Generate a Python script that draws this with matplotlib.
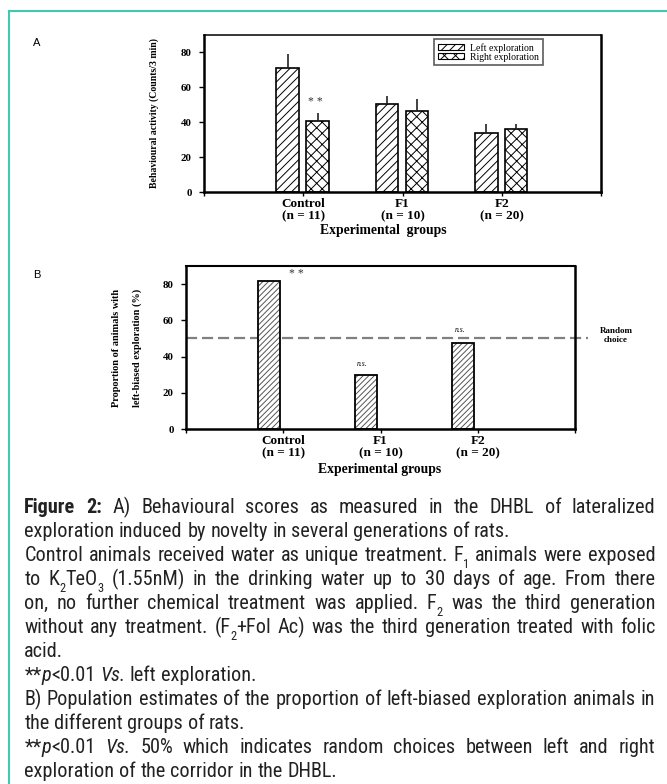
import os
import matplotlib
matplotlib.use("Agg")
import numpy as np
import matplotlib.pyplot as plt
from matplotlib import font_manager
from matplotlib.font_manager import FontProperties
from matplotlib.lines import Line2D
from matplotlib.patches import Patch

# ---- data ----
groups = ["Control", "F1", "F2"]
group_sizes = ["(n = 11)", "(n = 10)", "(n = 20)"]
left_exploration = [71.0, 50.6, 34.0]
left_exploration_err = [8.0, 4.3, 5.1]
right_exploration = [40.8, 46.4, 36.2]
right_exploration_err = [4.3, 7.0, 2.9]
left_biased_pct = [81.8, 30.0, 47.6]
random_choice_pct = 50
y_ticks = [0, 20, 40, 60, 80]
sig_b = ["* *", "n.s.", "n.s."]

# caption lines: '#' bold, '~' italic, '_' subscript, '|' splits segments in a word
caption_lines = [
    ("#Figure #2: A) Behavioural scores as measured in the DHBL of lateralized", True),
    ("exploration induced by novelty in several generations of rats.", False),
    ("Control animals received water as unique treatment. F|_1 animals were exposed", True),
    ("to K|_2|TeO|_3 (1.55nM) in the drinking water up to 30 days of age. From there", True),
    ("on, no further chemical treatment was applied. F|_2 was the third generation", True),
    ("without any treatment. (F|_2|+Fol Ac) was the third generation treated with folic", True),
    ("acid.", False),
    ("**|~p|<0.01 ~Vs. left exploration.", False),
    ("B) Population estimates of the proportion of left-biased exploration animals in", True),
    ("the different groups of rats.", False),
    ("**|~p|<0.01 ~Vs. 50% which indicates random choices between left and right", True),
    ("exploration of the corridor in the DHBL.", False),
]

W, H, DPI = 667, 784, 100
SERIF = "Liberation Serif"
plt.rcParams["hatch.linewidth"] = 0.7


def _weight(f):
    if isinstance(f.weight, (int, float)):
        return f.weight
    return font_manager.weight_dict.get(str(f.weight).lower(), 400)


def pick_narrow_files():
    """Look for a narrow/condensed sans to mimic Arial Narrow in the caption."""
    prefs = ["Liberation Sans Narrow", "Arial Narrow", "Noto Sans", "Open Sans",
             "Roboto", "DejaVu Sans"]
    entries = font_manager.fontManager.ttflist
    for fam in prefs:
        group = []
        for f in entries:
            base = os.path.basename(f.fname)
            if not f.name.startswith(fam) or "Mono" in f.name or "CJK" in f.name:
                continue
            narrow = ("Narrow" in f.name or "Condensed" in f.name or "Condensed" in base
                      or "Narrow" in base or str(f.stretch) == "condensed")
            if not narrow or "Extra" in base or "Ultra" in base or "Semi" in base:
                continue
            group.append(f)
        if not group:
            continue
        files = {}
        for f in group:
            w = _weight(f)
            if f.style == "normal" and w in (400,) and "r" not in files:
                files["r"] = f.fname
            elif f.style == "normal" and w == 700 and "b" not in files:
                files["b"] = f.fname
            elif f.style in ("italic", "oblique") and w == 400 and "i" not in files:
                files["i"] = f.fname
        if "r" in files:
            files.setdefault("b", files["r"])
            files.setdefault("i", files["r"])
            return files
    return None


NARROW = pick_narrow_files()


def px_box(x0, y0, x1, y1):
    return [x0 / W, 1 - y1 / H, (x1 - x0) / W, (y1 - y0) / H]


fig = plt.figure(figsize=(W / DPI, H / DPI), dpi=DPI)
x = np.arange(1, len(groups) + 1)
tick_labels = [f"{g}\n{n}" for g, n in zip(groups, group_sizes)]
label_kw = dict(family=SERIF, fontweight="bold")


def style_axes(ax, top_w):
    ax.set_xlim(0, 4)
    ax.set_ylim(0, 90)
    ax.set_yticks(y_ticks, labels=[str(v) for v in y_ticks], fontsize=7.8, **label_kw)
    ax.set_xticks(x, labels=tick_labels, fontsize=9.5, linespacing=0.95, **label_kw)
    ax.set_xticks([0, 4], minor=True)
    ax.tick_params(axis="y", length=3.3, width=1, pad=5.5)
    ax.tick_params(axis="x", which="both", length=3, width=1, pad=1.5)
    for side, lw in (("left", 1.8), ("bottom", 1.8), ("top", top_w), ("right", 1.8)):
        ax.spines[side].set_linewidth(lw)


# ---- panel A ----
axA = fig.add_axes(px_box(204, 35, 601, 192))
axA.bar(x - 0.156, left_exploration, 0.228, color="white", edgecolor="black",
        linewidth=1.2, hatch="////", zorder=2)
axA.bar(x + 0.145, right_exploration, 0.228, color="white", edgecolor="black",
        linewidth=1.2, hatch="xxx", zorder=2)
axA.errorbar(x - 0.156, left_exploration, yerr=[[0] * 3, left_exploration_err],
             fmt="none", ecolor="#222222", elinewidth=1.2, capsize=0, zorder=3)
axA.errorbar(x + 0.145, right_exploration, yerr=[[0] * 3, right_exploration_err],
             fmt="none", ecolor="#222222", elinewidth=1.2, capsize=0, zorder=3)
axA.text(x[0] + 0.12, right_exploration[0] + 11, "* *", ha="center", va="center",
         fontsize=8.5, color="#333333", family=SERIF)
style_axes(axA, 1.1)
axA.set_ylabel("Behavioural activity (Counts/3 min)", fontsize=7, va="center", **label_kw)
axA.yaxis.set_label_coords(-0.126, 0.5)
axA.set_xlabel("Experimental  groups", fontsize=9.8, va="center", **label_kw)
axA.xaxis.set_label_coords(0.451, -0.246)

handles = [Patch(facecolor="white", edgecolor="black", hatch="////", linewidth=0.8),
           Patch(facecolor="white", edgecolor="black", hatch="xxx", linewidth=0.8)]
leg = axA.legend(handles, ["Left exploration", "Right exploration"],
                 loc="upper left", bbox_to_anchor=(434 / W, 1 - 39 / H),
                 bbox_transform=fig.transFigure, borderaxespad=0, fancybox=False,
                 prop=dict(family=SERIF, size=7.0), handlelength=2.7, handleheight=0.6,
                 handletextpad=0.6, labelspacing=0.0, borderpad=0.4)
leg.get_frame().set_edgecolor("#333333")
leg.get_frame().set_linewidth(1.2)

# ---- panel B ----
axB = fig.add_axes(px_box(186, 266, 575, 429))
axB.bar(x - 0.15, left_biased_pct, 0.226, color="white", edgecolor="#555555",
        linewidth=0, hatch="//////", zorder=2)
axB.bar(x - 0.15, left_biased_pct, 0.226, fill=False, edgecolor="black",
        linewidth=1.3, zorder=3)
axB.axhline(random_choice_pct, xmin=0, xmax=1.033, color="#808080", lw=1.6,
            dashes=(5, 2.2), clip_on=False, zorder=1)
for xi, yi, s, dx, dy in zip(x, left_biased_pct, sig_b, [0.137, -0.193, -0.187], [3.7, 6.1, 7.1]):
    if s.startswith("*"):
        axB.text(xi + dx, yi + dy, s, ha="center", va="center", fontsize=8.5,
                 color="#333333", family=SERIF)
    else:
        axB.text(xi + dx, yi + dy, s, ha="center", va="center", fontsize=5.5,
                 style="italic", family=SERIF)
axB.text(1.107, 0.60, "Random", transform=axB.transAxes, ha="center", va="center",
         fontsize=6.5, **label_kw)
axB.text(1.105, 0.546, "choice", transform=axB.transAxes, ha="center", va="center",
         fontsize=6.5, **label_kw)
style_axes(axB, 1.5)
axB.text(-0.179, 0.5, "Proportion of animals with", transform=axB.transAxes,
         rotation=90, ha="center", va="center", fontsize=7.4, **label_kw)
axB.text(-0.125, 0.5, "left-biased exploration (%)", transform=axB.transAxes,
         rotation=90, ha="center", va="center", fontsize=7.4, **label_kw)
axB.set_xlabel("Experimental groups", fontsize=9.8, va="center", **label_kw)
axB.xaxis.set_label_coords(0.499, -0.25)

# panel letters and frame
fig.text(37 / W, 1 - 43 / H, "A", fontsize=8, family="Liberation Sans", ha="center", va="center")
fig.text(37 / W, 1 - 275 / H, "B", fontsize=8, family="Liberation Sans", ha="center", va="center")
teal = "#3fc9b2"
fig.add_artist(Line2D([9 / W, 9 / W], [0, 1 - 10.7 / H], color=teal, lw=1.5,
                      transform=fig.transFigure))
fig.add_artist(Line2D([9 / W, 1], [1 - 10.7 / H, 1 - 10.7 / H], color=teal, lw=1.5,
                      transform=fig.transFigure))

# ---- caption (justified by hand) ----
renderer = fig.canvas.get_renderer()


def seg_props(style, size):
    if style == "_":
        size = size * 0.62
        style = "r"
    if NARROW:
        return dict(fontproperties=FontProperties(fname=NARROW[style if style in NARROW else "r"],
                                                  size=size))
    if style == "b":
        return dict(family="Liberation Sans", fontweight="bold", fontsize=size)
    if style == "i":
        return dict(family="Liberation Sans", style="italic", fontsize=size)
    return dict(family="Liberation Sans", fontsize=size)


def parse_word(word):
    out = []
    for seg in word.split("|"):
        if seg[:1] in "#~_" and len(seg) > 1:
            out.append((seg[1:], {"#": "b", "~": "i", "_": "_"}[seg[0]]))
        else:
            out.append((seg, "r"))
    return out


def text_width(s, props):
    t = fig.text(0, 0, s, **props)
    w = t.get_window_extent(renderer).width
    t.remove()
    return w


def line_words(line):
    return [parse_word(w) for w in line.split(" ")]


def natural_width(words, size):
    ws = [sum(text_width(s, seg_props(st, size)) for s, st in w) for w in words]
    sp = text_width("a a", seg_props("r", size)) - text_width("aa", seg_props("r", size))
    return sum(ws) + sp * (len(ws) - 1), ws, sp


left_px, right_px = 24.3, 655.3
base = 10.0
w2, _, _ = natural_width(line_words(caption_lines[1][0]), base)
size = base * 501 / w2
widest = max(natural_width(line_words(l), size)[0] for l, j in caption_lines if j)
if widest > (right_px - left_px) * 0.985:
    size *= (right_px - left_px) * 0.985 / widest

for i, (line, justify) in enumerate(caption_lines):
    words = line_words(line)
    total, ws, sp = natural_width(words, size)
    gap = ((right_px - left_px) - sum(ws)) / (len(ws) - 1) if justify else sp
    base_y = 513.3 + 24.0 * i
    cx = left_px
    for w, wlen in zip(words, ws):
        sx = cx
        for s, st in w:
            props = seg_props(st, size)
            dy = 0.32 * size * DPI / 72 if st == "_" else 0
            fig.text(sx / W, 1 - (base_y + dy) / H, s, ha="left", va="baseline",
                     color="#222222", **props)
            sx += text_width(s, props)
        cx += wlen + gap

fig.savefig("out.png", dpi=DPI)
